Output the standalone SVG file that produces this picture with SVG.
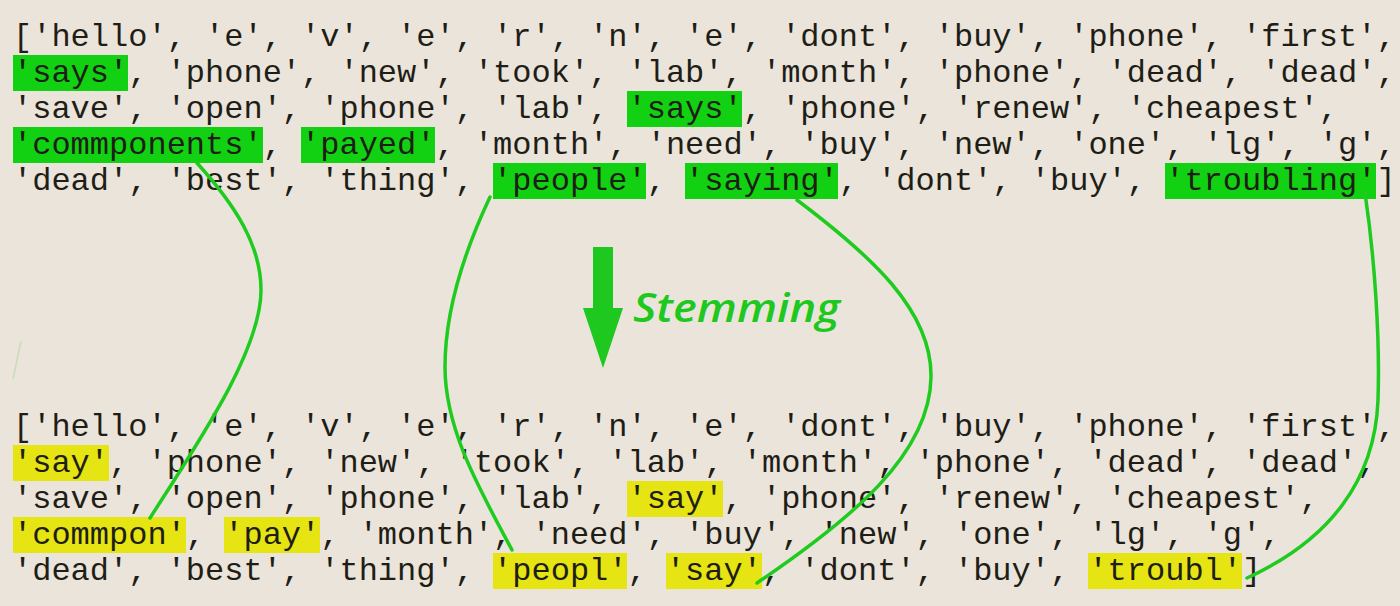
<svg xmlns="http://www.w3.org/2000/svg" width="1400" height="606" viewBox="0 0 1400 606">
<style>
.bg{fill:#ebe4db}
.code{font-family:"Liberation Mono","Courier New",monospace;font-size:32px;fill:#1e1e16;white-space:pre}
.hg{fill:#12d112}
.hy{fill:#e6e412}
.link{fill:none;stroke:#1ecb1e;stroke-width:3.5;stroke-linecap:round}
.stem{font-family:"Open Sans","DejaVu Sans",sans-serif;font-style:italic;font-weight:600;font-size:40px;fill:#1ec81e}
</style>
<rect class="bg" x="0" y="0" width="1400" height="606"/>
<line x1="13" y1="379" x2="21" y2="341" stroke="#c8dcb8" stroke-width="1.5"/>
<g id="top-highlights">
<rect class="hg" x="13" y="55" width="115" height="36"/>
<rect class="hg" x="627" y="91" width="115" height="36"/>
<rect class="hg" x="13" y="127" width="250" height="36"/>
<rect class="hg" x="301" y="127" width="134" height="36"/>
<rect class="hg" x="493" y="163" width="153" height="36"/>
<rect class="hg" x="685" y="163" width="153" height="36"/>
<rect class="hg" x="1165" y="163" width="211" height="36"/>
</g>
<g id="top-list">
<text class="code" xml:space="preserve" x="13" y="46">['hello', 'e', 'v', 'e', 'r', 'n', 'e', 'dont', 'buy', 'phone', 'first',</text>
<text class="code" xml:space="preserve" x="13" y="82">'says', 'phone', 'new', 'took', 'lab', 'month', 'phone', 'dead', 'dead',</text>
<text class="code" xml:space="preserve" x="13" y="118">'save', 'open', 'phone', 'lab', 'says', 'phone', 'renew', 'cheapest',</text>
<text class="code" xml:space="preserve" x="13" y="154">'commponents', 'payed', 'month', 'need', 'buy', 'new', 'one', 'lg', 'g',</text>
<text class="code" xml:space="preserve" x="13" y="190">'dead', 'best', 'thing', 'people', 'saying', 'dont', 'buy', 'troubling']</text>
</g>
<g id="stemming-arrow">
<polygon fill="#1ec81e" points="593,247 613,247 613,308 623,308 603,368 583,308 593,308"/>
<text class="stem" x="633" y="322" textLength="207" lengthAdjust="spacingAndGlyphs">Stemming</text>
</g>
<g id="bottom-highlights">
<rect class="hy" x="13" y="445" width="96" height="36"/>
<rect class="hy" x="627" y="481" width="96" height="36"/>
<rect class="hy" x="13" y="517" width="173" height="36"/>
<rect class="hy" x="224" y="517" width="96" height="36"/>
<rect class="hy" x="493" y="553" width="134" height="36"/>
<rect class="hy" x="666" y="553" width="96" height="36"/>
<rect class="hy" x="1088" y="553" width="154" height="36"/>
</g>
<g id="bottom-list">
<text class="code" xml:space="preserve" x="13" y="436">['hello', 'e', 'v', 'e', 'r', 'n', 'e', 'dont', 'buy', 'phone', 'first',</text>
<text class="code" xml:space="preserve" x="13" y="472">'say', 'phone', 'new', 'took', 'lab', 'month', 'phone', 'dead', 'dead',</text>
<text class="code" xml:space="preserve" x="13" y="508">'save', 'open', 'phone', 'lab', 'say', 'phone', 'renew', 'cheapest',</text>
<text class="code" xml:space="preserve" x="13" y="544">'commpon', 'pay', 'month', 'need', 'buy', 'new', 'one', 'lg', 'g',</text>
<text class="code" xml:space="preserve" x="13" y="580">'dead', 'best', 'thing', 'peopl', 'say', 'dont', 'buy', 'troubl']</text>
</g>
<g id="connectors">
<path class="link" d="M197,163 C235,205 261,245 261,290 C261,350 200,440 150,518"/>
<path class="link" d="M490,197 C465,250 445,310 445,367 C445,430 480,490 512,550"/>
<path class="link" d="M797,200 C870,255 932,310 931,377 C930,455 850,520 757,583"/>
<path class="link" d="M1365,193 C1375,260 1380,340 1378,400 C1375,480 1330,540 1247,578"/>
</g>
</svg>
